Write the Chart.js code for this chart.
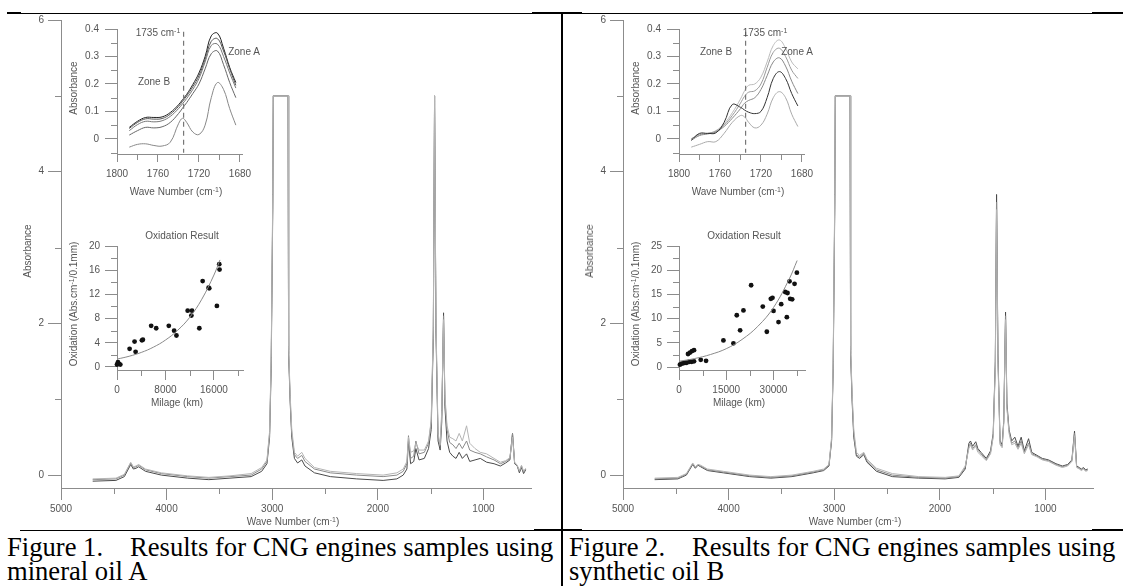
<!DOCTYPE html>
<html>
<head>
<meta charset="utf-8">
<script src="https://cdn.jsdelivr.net/npm/chart.js@4.4.0/dist/chart.umd.min.js"></script>
<style>
body { margin: 0; background: #fff; width: 1123px; height: 586px; overflow: hidden; position: relative; font-family: "Liberation Sans", Arial, sans-serif; }
.panel { position: absolute; top: 0; width: 562px; height: 586px; }
canvas { position: absolute; }
.t { position: absolute; color: #555; font-size: 10px; white-space: nowrap; line-height: 1; transform: translate(-50%, -50%); }
.t sup { font-size: 7px; vertical-align: 3px; line-height: 0; }
.rot { transform: translate(-50%, -50%) rotate(-90deg); }
.cap { position: absolute; left: 7px; top: 535px; font-family: "Liberation Serif", "Times New Roman", serif; font-size: 26.6px; line-height: 24px; color: #000; white-space: nowrap; }
.rule { position: absolute; background: #000; }
</style>
</head>
<body>
<div class="rule" style="left:7px;top:13px;width:1116px;height:1px"></div>
<div class="rule" style="left:7px;top:12px;width:14px;height:2px"></div>
<div class="rule" style="left:532px;top:12px;width:50px;height:2px"></div>
<div class="rule" style="left:1092px;top:12px;width:31px;height:2px"></div>
<div class="rule" style="left:561px;top:13px;width:2px;height:573px"></div>
<div class="rule" style="left:20px;top:530px;width:1103px;height:1px"></div>
<div class="rule" style="left:534px;top:529px;width:48px;height:2px"></div>
<div class="rule" style="left:1092px;top:529px;width:31px;height:2px"></div>

<div class="panel" id="p1" style="left:0">
  <div class="cap">Figure 1.<span style="display:inline-block;width:27px"></span>Results for CNG engines samples using<br>mineral oil A</div>
</div>
<div class="panel" id="p2" style="left:562px">
  <div class="cap">Figure 2.<span style="display:inline-block;width:27px"></span>Results for CNG engines samples using<br>synthetic oil B</div>
</div>

<script>
// ---- main FTIR spectra (wave number cm-1 / absorbance) ----
const mainWave = [4700, 4480, 4400, 4340, 4315, 4290, 4265, 4200, 4050, 3800,
  3600, 3400, 3200, 3100, 3050, 3025, 3010, 2995, 2990, 2850,
  2845, 2830, 2815, 2790, 2760, 2720, 2690, 2600, 2450, 2200,
  1950, 1820, 1760, 1725, 1710, 1690, 1660, 1640, 1610, 1560,
  1520, 1495, 1475, 1463, 1450, 1430, 1410, 1395, 1378, 1365,
  1345, 1320, 1290, 1260, 1230, 1200, 1160, 1130, 1080, 1030,
  970, 900, 840, 790, 750, 725, 705, 680, 660, 640,
  620, 600];

const p1SpecA = [-0.08, -0.07, -0.02, 0.14, 0.08, 0.09, 0.11, 0.05, 0.0, -0.04,
  -0.06, -0.04, -0.02, 0.05, 0.15, 0.5, 1.4, 3.5, 5.0, 5.0,
  1.6, 0.95, 0.5, 0.22, 0.16, 0.2, 0.12, 0.03, -0.02, -0.05,
  -0.07, -0.05, 0.0, 0.08, 0.45, 0.15, 0.18, 0.35, 0.2, 0.22,
  0.35, 0.6, 1.8, 5.0, 1.9, 0.45, 0.33, 0.7, 2.14, 0.9,
  0.45, 0.3, 0.25, 0.22, 0.3, 0.22, 0.28, 0.18, 0.2, 0.22,
  0.17, 0.15, 0.12, 0.16, 0.2, 0.55, 0.15, 0.12, 0.03, 0.1,
  0.02, 0.07];
const p1SpecB = [-0.06, -0.05, 0.0, 0.16, 0.1, 0.11, 0.13, 0.07, 0.02, -0.02,
  -0.04, -0.02, 0.0, 0.08, 0.18, 0.55, 1.5, 3.6, 5.0, 5.0,
  1.65, 1.0, 0.55, 0.27, 0.22, 0.26, 0.18, 0.08, 0.03, 0.0,
  -0.02, 0.0, 0.05, 0.15, 0.52, 0.22, 0.25, 0.45, 0.28, 0.3,
  0.42, 0.7, 1.9, 5.0, 2.0, 0.5, 0.38, 0.8, 2.1, 1.0,
  0.6, 0.43, 0.4, 0.35, 0.42, 0.35, 0.45, 0.33, 0.3, 0.28,
  0.24, 0.2, 0.15, 0.18, 0.22, 0.55, 0.16, 0.12, 0.05, 0.12,
  0.04, 0.08];
const p1SpecC = [-0.05, -0.04, 0.01, 0.17, 0.11, 0.12, 0.14, 0.08, 0.03, -0.01,
  -0.03, -0.01, 0.02, 0.1, 0.2, 0.58, 1.55, 3.7, 5.0, 5.0,
  1.7, 1.05, 0.6, 0.3, 0.25, 0.3, 0.22, 0.1, 0.05, 0.02,
  0.0, 0.03, 0.08, 0.18, 0.5, 0.3, 0.32, 0.42, 0.33, 0.33,
  0.45, 0.72, 1.95, 5.0, 2.05, 0.55, 0.4, 0.85, 2.05, 1.05,
  0.65, 0.5, 0.48, 0.45, 0.55, 0.45, 0.65, 0.42, 0.35, 0.3,
  0.28, 0.22, 0.17, 0.19, 0.23, 0.5, 0.17, 0.13, 0.06, 0.13,
  0.05, 0.09];

const p2SpecA = [-0.06, -0.05, 0.0, 0.14, 0.09, 0.13, 0.11, 0.06, 0.03, -0.02,
  -0.04, -0.02, 0.03, 0.06, 0.12, 0.45, 1.4, 3.5, 5.0, 5.0,
  1.6, 0.95, 0.5, 0.25, 0.22, 0.27, 0.17, 0.05, -0.02, -0.04,
  -0.05, -0.03, 0.08, 0.42, 0.45, 0.38, 0.44, 0.35, 0.3, 0.22,
  0.32, 0.55, 1.5, 3.7, 1.6, 0.45, 0.4, 0.72, 2.15, 0.95,
  0.6, 0.45, 0.5, 0.38, 0.5, 0.32, 0.48, 0.3, 0.26, 0.22,
  0.2, 0.15, 0.12, 0.14, 0.2, 0.58, 0.12, 0.1, 0.08, 0.1,
  0.07, 0.08];
const p2SpecB = [-0.05, -0.04, 0.01, 0.15, 0.1, 0.14, 0.12, 0.07, 0.04, -0.01,
  -0.03, -0.01, 0.04, 0.07, 0.13, 0.47, 1.45, 3.6, 5.0, 5.0,
  1.65, 1.0, 0.55, 0.27, 0.24, 0.29, 0.19, 0.07, 0.0, -0.03,
  -0.04, -0.02, 0.1, 0.38, 0.42, 0.35, 0.4, 0.33, 0.28, 0.2,
  0.3, 0.52, 1.45, 3.6, 1.55, 0.42, 0.38, 0.7, 2.1, 0.9,
  0.58, 0.42, 0.45, 0.36, 0.45, 0.3, 0.42, 0.28, 0.25, 0.21,
  0.19, 0.14, 0.11, 0.13, 0.19, 0.55, 0.11, 0.09, 0.07, 0.09,
  0.06, 0.07];
const p2SpecC = [-0.04, -0.03, 0.02, 0.16, 0.11, 0.14, 0.13, 0.08, 0.05, 0.0,
  -0.02, 0.0, 0.05, 0.08, 0.14, 0.5, 1.5, 3.7, 5.0, 5.0,
  1.7, 1.05, 0.6, 0.3, 0.26, 0.3, 0.21, 0.09, 0.02, -0.02,
  -0.03, -0.01, 0.12, 0.35, 0.4, 0.33, 0.38, 0.3, 0.26, 0.19,
  0.28, 0.5, 1.4, 3.5, 1.5, 0.4, 0.36, 0.68, 2.05, 0.88,
  0.55, 0.4, 0.42, 0.34, 0.42, 0.28, 0.4, 0.27, 0.24, 0.2,
  0.18, 0.13, 0.1, 0.12, 0.18, 0.52, 0.1, 0.08, 0.06, 0.08,
  0.05, 0.06];

// ---- carbonyl region insets ----
const insetWave = [1788, 1780, 1772, 1764, 1756, 1748, 1740, 1736, 1732, 1726, 1720, 1714, 1708, 1702, 1696, 1690, 1684];
const p1InsetA = [0.042, 0.064, 0.078, 0.078, 0.080, 0.096, 0.124, 0.143, 0.162, 0.198, 0.24, 0.30, 0.375, 0.385, 0.33, 0.26, 0.205];
const p1InsetB = [0.038, 0.060, 0.073, 0.072, 0.074, 0.090, 0.118, 0.137, 0.156, 0.19, 0.23, 0.29, 0.355, 0.365, 0.32, 0.255, 0.195];
const p1InsetC = [0.030, 0.052, 0.064, 0.062, 0.066, 0.082, 0.110, 0.128, 0.147, 0.18, 0.22, 0.28, 0.34, 0.345, 0.30, 0.24, 0.185];
const p1InsetD = [0.014, 0.030, 0.042, 0.040, 0.044, 0.060, 0.092, 0.112, 0.132, 0.165, 0.20, 0.255, 0.31, 0.32, 0.27, 0.205, 0.15];
const p1InsetE = [-0.030, -0.020, -0.018, -0.024, -0.026, -0.012, 0.055, 0.075, 0.06, 0.025, 0.016, 0.05, 0.15, 0.205, 0.18, 0.11, 0.05];

const p2InsetA = [0.0, 0.018, 0.02, 0.03, 0.055, 0.095, 0.145, 0.175, 0.195, 0.20, 0.225, 0.28, 0.34, 0.36, 0.33, 0.28, 0.255];
const p2InsetB = [0.0, 0.015, 0.02, 0.028, 0.05, 0.085, 0.13, 0.155, 0.17, 0.175, 0.20, 0.26, 0.315, 0.33, 0.30, 0.25, 0.22];
const p2InsetC = [-0.005, 0.012, 0.018, 0.025, 0.045, 0.075, 0.11, 0.13, 0.14, 0.15, 0.18, 0.23, 0.28, 0.295, 0.265, 0.21, 0.165];
const p2InsetD = [-0.005, 0.02, 0.02, 0.022, 0.06, 0.125, 0.115, 0.105, 0.097, 0.092, 0.10, 0.15, 0.22, 0.245, 0.22, 0.165, 0.12];
const p2InsetE = [-0.03, -0.02, -0.01, -0.01, 0.02, 0.06, 0.085, 0.08, 0.06, 0.04, 0.05, 0.09, 0.15, 0.172, 0.15, 0.09, 0.045];

const markerWave = 1735;
const markerSpan = [0.39, -0.05];

// ---- oxidation vs milage insets ----
const p1Mileage = [0, 160, 330, 550, 2080, 2900, 3070, 4110, 4270, 5640, 6470, 8550, 9430, 9810, 11670, 12280, 12380, 13590, 14140, 15120, 15230, 16490, 16880, 16930];
const p1Oxidation = [0.4, 0.8, 0.5, 0.4, 3.0, 4.2, 2.5, 4.4, 4.5, 6.8, 6.4, 6.8, 6.0, 5.2, 9.3, 8.5, 9.3, 6.4, 14.2, 13.1, 13.0, 10.1, 17.0, 16.1];
const p1FitMileage = [0, 2000, 4000, 6000, 8000, 10000, 12000, 14000, 16000, 17000];
const p1FitOxidation = [1.3, 1.77, 2.4, 3.27, 4.45, 6.05, 8.2, 11.2, 15.2, 17.7];

const p2Mileage = [300, 850, 1380, 1900, 2440, 3290, 4030, 4770, 2860, 3500, 4130, 4770, 6900, 8590, 14100, 17280, 18340, 19400, 20460, 22900, 26600, 27880, 29150, 29680, 30000, 31590, 32440, 33710, 34240, 34450, 35090, 35300, 35930, 36680, 37420];
const p2Oxidation = [0.5, 0.7, 0.8, 0.9, 0.9, 1.1, 1.1, 1.2, 2.7, 3.0, 3.3, 3.5, 1.5, 1.3, 5.5, 4.9, 10.7, 7.6, 11.7, 16.9, 12.5, 7.3, 14.1, 14.3, 11.6, 9.3, 13.0, 15.5, 10.3, 15.3, 17.7, 14.1, 14.0, 17.2, 19.5];
const p2FitMileage = [0, 5000, 10000, 15000, 20000, 25000, 30000, 35000, 37500];
const p2FitOxidation = [1.2, 1.77, 2.6, 3.8, 5.7, 8.4, 12.3, 18.2, 22.0];

// ---- axis ticks ----
const mainXTicks = [5000, 4000, 3000, 2000, 1000];
const mainXMinor = [4500, 3500, 2500, 1500];
const mainYTicks = [0, 2, 4, 6];
const mainYMinor = [1, 3, 5];
const insetXTicks = [1800, 1760, 1720, 1680];
const insetXMinor = [1780, 1740, 1700];
const insetYTicks = [0, 0.1, 0.2, 0.3, 0.4];
const insetYMinor = [-0.05, 0.05, 0.15, 0.25, 0.35];
const p1OxXTicks = [0, 8000, 16000];
const p1OxXMinor = [4000, 12000, 20000];
const p1OxYTicks = [0, 4, 8, 12, 16, 20];
const p1OxYMinor = [2, 6, 10, 14, 18];
const p2OxXTicks = [0, 15000, 30000];
const p2OxXMinor = [7500, 22500, 37500];
const p2OxYTicks = [0, 5, 10, 15, 20, 25];
const p2OxYMinor = [2.5, 7.5, 12.5, 17.5, 22.5];

Chart.defaults.font.family = '"Liberation Sans", Arial, sans-serif';
Chart.defaults.font.size = 10;
Chart.defaults.color = '#555';

var axisColor = '#8c8c8c';

function pairs(xs, ys) {
    return xs.map(function (x, i) { return { x: x, y: ys[i] }; });
}

function minorTicks(spec) {
    return {
        id: 'minorTicks',
        afterDraw: function (chart) {
            var ctx = chart.ctx;
            ctx.save();
            ctx.strokeStyle = axisColor;
            ctx.lineWidth = 1;
            ['x', 'y'].forEach(function (id) {
                var s = chart.scales[id];
                var m = spec[id];
                m.values.forEach(function (v) {
                    var p = Math.round(s.getPixelForValue(v)) + 0.5;
                    ctx.beginPath();
                    if (id === 'x') {
                        ctx.moveTo(p, s.top);
                        ctx.lineTo(p, s.top + m.len);
                    } else {
                        ctx.moveTo(s.right, p);
                        ctx.lineTo(s.right - m.len, p);
                    }
                    ctx.stroke();
                });
            });
            ctx.restore();
        }
    };
}

function axis(spec, fit) {
    return {
        type: 'linear',
        min: spec.min,
        max: spec.max,
        reverse: !!spec.reverse,
        afterBuildTicks: function (s) {
            s.ticks = spec.major.map(function (v) { return { value: v }; });
        },
        afterFit: fit,
        ticks: {
            autoSkip: false, maxRotation: 0, padding: spec.pad, color: '#555',
            font: { size: 10 },
            callback: function (v) { return String(v); }
        },
        grid: { drawOnChartArea: false, tickLength: spec.len, color: axisColor, tickColor: axisColor, lineWidth: 1 },
        border: { color: axisColor, width: 1 }
    };
}

function makeChart(host, pos, xs, ys, datasets) {
    var c = document.createElement('canvas');
    c.width = pos.w;
    c.height = pos.h;
    c.style.left = pos.left + 'px';
    c.style.top = pos.top + 'px';
    c.style.width = pos.w + 'px';
    c.style.height = pos.h + 'px';
    host.appendChild(c);
    return new Chart(c.getContext('2d'), {
        type: 'line',
        data: { datasets: datasets },
        options: {
            responsive: false,
            animation: false,
            events: [],
            layout: { padding: { left: 0, top: pos.T, right: pos.w - pos.R, bottom: 0 } },
            plugins: { legend: { display: false }, tooltip: { enabled: false } },
            scales: {
                x: axis(xs, function (s) { s.height = pos.h - pos.B; }),
                y: axis(ys, function (s) { s.width = pos.L; })
            }
        },
        plugins: [minorTicks({ x: { values: xs.minor, len: 6 }, y: { values: ys.minor, len: 6 } })]
    });
}

function line(xs, ys, color, smooth) {
    return { data: pairs(xs, ys), borderColor: color, borderWidth: 1, pointRadius: 0, tension: smooth ? 0.4 : 0, fill: false };
}

function text(host, html, x, y, rot) {
    var d = document.createElement('div');
    d.className = rot ? 't rot' : 't';
    d.style.left = x + 'px';
    d.style.top = y + 'px';
    d.innerHTML = html;
    host.appendChild(d);
}

function drawPanel(id, spec, inset, ox) {
    var host = document.getElementById(id);

    // main spectrum
    makeChart(host, { left: 0, top: 0, w: 562, h: 520, L: 61, T: 20, R: 531, B: 488 },
        { min: 550, max: 5000, reverse: true, major: mainXTicks, minor: mainXMinor, len: 12, pad: 3 },
        { min: -0.17, max: 6, major: mainYTicks, minor: mainYMinor, len: 13, pad: 4 },
        [line(mainWave, spec[2], '#b4b4b4'), line(mainWave, spec[1], '#8a8a8a'), line(mainWave, spec[0], '#4a4a4a')]);

    // carbonyl inset
    makeChart(host, { left: 60, top: 15, w: 205, h: 190, L: 57, T: 14, R: 182, B: 139 },
        { min: 1678, max: 1800, reverse: true, major: insetXTicks, minor: insetXMinor, len: 8, pad: 6 },
        { min: -0.055, max: 0.4, major: insetYTicks, minor: insetYMinor, len: 12, pad: 6 },
        [
            { data: pairs([markerWave, markerWave], markerSpan), borderColor: '#777', borderWidth: 1.2, borderDash: [5, 4], pointRadius: 0 },
            line(insetWave, inset.curves[4], inset.colors[4], true),
            line(insetWave, inset.curves[3], inset.colors[3], true),
            line(insetWave, inset.curves[2], inset.colors[2], true),
            line(insetWave, inset.curves[1], inset.colors[1], true),
            line(insetWave, inset.curves[0], inset.colors[0], true)
        ]);

    // oxidation inset
    makeChart(host, { left: 60, top: 235, w: 200, h: 165, L: 57, T: 8, R: 183, B: 135 },
        { min: 0, max: ox.xMax, major: ox.xTicks, minor: ox.xMinor, len: 10, pad: 4 },
        { min: ox.yMin, max: ox.yMax, major: ox.yTicks, minor: ox.yMinor, len: 12, pad: 5 },
        [
            line(ox.fitX, ox.fitY, '#8a8a8a', true),
            { data: pairs(ox.x, ox.y), showLine: false, pointRadius: 2.4, pointBackgroundColor: '#111', pointBorderWidth: 0, borderColor: '#111', clip: 6 }
        ]);

    // labels
    text(host, 'Absorbance', 28, 251, true);
    text(host, 'Wave Number (cm<sup>-1</sup>)', 293, 522);
    text(host, 'Absorbance', 74, 88, true);
    text(host, 'Wave Number (cm<sup>-1</sup>)', 176, 192);
    text(host, '1735 cm<sup>-1</sup>', inset.markX, 33);
    text(host, 'Zone A', inset.zoneA[0], inset.zoneA[1]);
    text(host, 'Zone B', inset.zoneB[0], inset.zoneB[1]);
    text(host, 'Oxidation Result', 182, 236);
    text(host, 'Oxidation (Abs.cm<sup>-1</sup>/0.1mm)', 74, 304, true);
    text(host, 'Milage (km)', 177, 403);
}

drawPanel('p1', [p1SpecA, p1SpecB, p1SpecC],
    { curves: [p1InsetA, p1InsetB, p1InsetC, p1InsetD, p1InsetE], colors: ['#222', '#555', '#777', '#666', '#888'], markX: 158, zoneA: [244, 52], zoneB: [154, 82] },
    { x: p1Mileage, y: p1Oxidation, fitX: p1FitMileage, fitY: p1FitOxidation, xMax: 20800, yMin: -0.5, yMax: 20,
      xTicks: p1OxXTicks, xMinor: p1OxXMinor, yTicks: p1OxYTicks, yMinor: p1OxYMinor });

drawPanel('p2', [p2SpecA, p2SpecB, p2SpecC],
    { curves: [p2InsetA, p2InsetB, p2InsetC, p2InsetD, p2InsetE], colors: ['#bbb', '#999', '#888', '#333', '#aaa'], markX: 203, zoneA: [235, 52], zoneB: [154, 52] },
    { x: p2Mileage, y: p2Oxidation, fitX: p2FitMileage, fitY: p2FitOxidation, xMax: 40000, yMin: -0.6, yMax: 25,
      xTicks: p2OxXTicks, xMinor: p2OxXMinor, yTicks: p2OxYTicks, yMinor: p2OxYMinor });
</script>
</body>
</html>
